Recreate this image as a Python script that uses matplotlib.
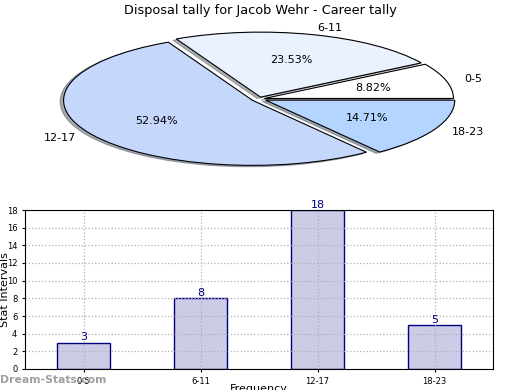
import numpy as np
import matplotlib.pyplot as plt

# data
intervals = ["0-5", "6-11", "12-17", "18-23"]
tally = [3, 8, 18, 5]
pie_colors = ["#ffffff", "#eaf2ff", "#c5d8fc", "#b3d5ff"]
explode = [0.03, 0.03, 0.04, 0.04]

fig = plt.figure(figsize=(5.2, 3.9), dpi=100)

# pie (squashed, not equal aspect)
ax1 = fig.add_axes([70/520, 1-164/390, 378/520, 130/390])
wedges, texts, autotexts = ax1.pie(tally, labels=intervals, colors=pie_colors,
                                   explode=explode, autopct="%.2f%%",
                                   shadow={"ox": -0.013, "oy": -0.015, "shade": 0.6},
                                   startangle=0, labeldistance=1.1, pctdistance=0.6,
                                   wedgeprops=dict(edgecolor="black", linewidth=0.8),
                                   textprops=dict(fontsize=8))
ax1.set_aspect("auto")
ax1.set_xlim(-1, 1)
ax1.set_ylim(-1, 1)
fig.text(0.5, 0.974, "Disposal tally for Jacob Wehr - Career tally",
         ha="center", va="center", fontsize=9.3)

# bars
ax2 = fig.add_axes([25/520, 1-369/390, 468/520, 159/390])
x = np.arange(len(intervals))
ax2.bar(x, tally, width=0.45, color="#cccce6", edgecolor="#000080", linewidth=1, zorder=2)
for xi, v in zip(x, tally):
    ax2.text(xi, v, str(v), ha="center", va="bottom", color="#000080", fontsize=8)
ax2.set_xlim(-0.5, 3.5)
ax2.set_ylim(0, 18)
ax2.set_yticks(range(0, 19, 2))
ax2.set_xticks(x)
ax2.set_xticklabels(intervals)
ax2.tick_params(labelsize=6, length=2)
ax2.grid(True, linestyle=":", color="#b0b0b0", linewidth=0.9)
ax2.set_axisbelow(False)
for s in ax2.spines.values():
    s.set_zorder(5)
ax2.set_ylabel("Stat Intervals", fontsize=8)
ax2.yaxis.set_label_coords(-0.033, 0.5)
ax2.set_xlabel("Frequency", fontsize=8)
ax2.xaxis.set_label_coords(0.5, -0.095)

fig.text(0.0, 0.025, "Dream-Stats.com", color="#a0a0a0", fontsize=7.8,
         fontweight="bold", ha="left", va="center")

fig.savefig("out.png", dpi=100)
